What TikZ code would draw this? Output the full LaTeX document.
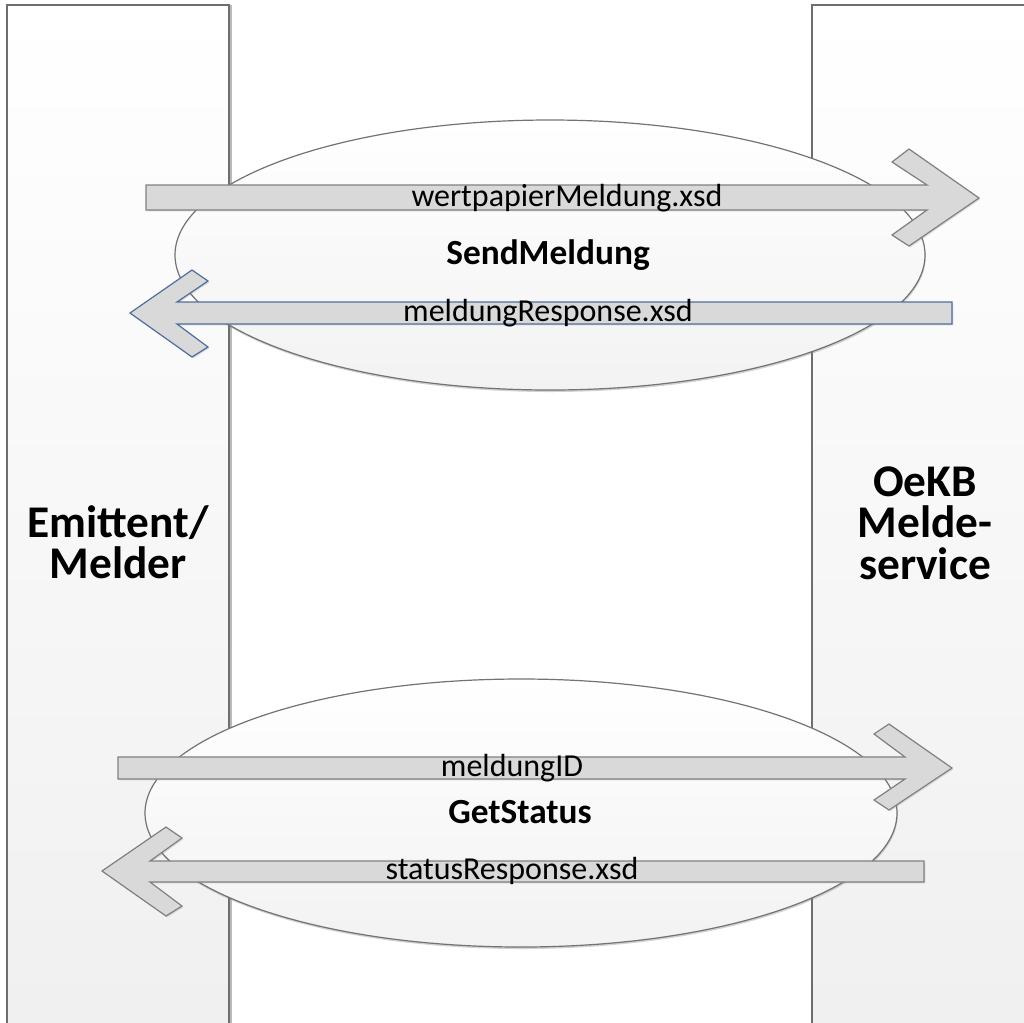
\documentclass[tikz,border=0pt]{standalone}
\usepackage{fontspec}
\setmainfont{Carlito}
\usetikzlibrary{shadows}
\definecolor{arrowfill}{RGB}{217,217,217}
\definecolor{arrowline}{RGB}{128,128,128}
\definecolor{arrowblue}{RGB}{79,110,160}
\definecolor{laneline}{RGB}{110,110,110}
\tikzset{
  lane/.style={draw=laneline, line width=1pt, top color=white, bottom color=black!6,
    drop shadow={shadow xshift=2.5pt, shadow yshift=0pt, opacity=0.45, fill=black!60}},
  callellipse/.style={draw=black!55, line width=0.9pt, top color=white, bottom color=black!5,
    drop shadow={shadow xshift=0.5pt, shadow yshift=-1.5pt, opacity=0.35}},
  blockarrow/.style={draw=arrowline, line width=0.9pt, fill=arrowfill,
    drop shadow={shadow xshift=1pt, shadow yshift=-1pt, opacity=0.25}},
  msglabel/.style={font=\fontsize{24}{28}\selectfont},
  oplabel/.style={font=\fontsize{26.5}{30}\selectfont\bfseries},
  lanelabel/.style={font=\fontsize{34}{31}\selectfont\bfseries, align=center}
}
\begin{document}
\begin{tikzpicture}[x=0.75pt,y=0.75pt,yscale=-1]
\clip (0,0) rectangle (1024,1022);
\fill[white] (0,0) rectangle (1024,1022);

%Shape: Rectangle [Emittent lane]
\path[lane] (7,5) rectangle (229,1040);
%Shape: Rectangle [OeKB lane]
\path[lane] (812,5) rectangle (1040,1040);

%Shape: Ellipse [SendMeldung]
\path[callellipse] (550,255) ellipse [x radius=375, y radius=135];
%Shape: Ellipse [GetStatus]
\path[callellipse] (521,813) ellipse [x radius=376, y radius=134];

%Shape: Right Arrow [wertpapierMeldung]
\path[blockarrow] (146,185) -- (927,185) -- (892,162) -- (909,149) -- (979,198) -- (909,246) -- (892,235) -- (927,210) -- (146,210) -- cycle ;
%Shape: Left Arrow [meldungResponse]
\path[blockarrow, draw=arrowblue] (952,302) -- (177,302) -- (208,281) -- (192,270) -- (130,313) -- (192,357) -- (208,347) -- (177,324) -- (952,324) -- cycle ;
%Shape: Right Arrow [meldungID]
\path[blockarrow] (118,757) -- (905,757) -- (874,734) -- (889,724) -- (952,768) -- (889,810) -- (874,800) -- (905,779) -- (118,779) -- cycle ;
%Shape: Left Arrow [statusResponse]
\path[blockarrow] (924,861) -- (150,861) -- (182,838) -- (166,827) -- (102,871) -- (166,916) -- (182,906) -- (150,882) -- (924,882) -- cycle ;

% Text Node
\node[msglabel] (wpm) at (567,198) {wertpapierMeldung.xsd};
% Text Node
\node[oplabel] (send) at (548,255) {SendMeldung};
% Text Node
\node[msglabel] (mresp) at (548,313) {meldungResponse.xsd};
% Text Node
\node[msglabel] (mid) at (512,768) {meldungID};
% Text Node
\node[oplabel] (status) at (520,812) {GetStatus};
% Text Node
\node[msglabel] (sresp) at (512,871) {statusResponse.xsd};
% Text Node
\node[lanelabel] (melder) at (118,542) {Emittent/\\Melder};
% Text Node
\node[lanelabel] (oekb) at (925,523) {OeKB\\Melde-\\service};

\end{tikzpicture}
\end{document}
